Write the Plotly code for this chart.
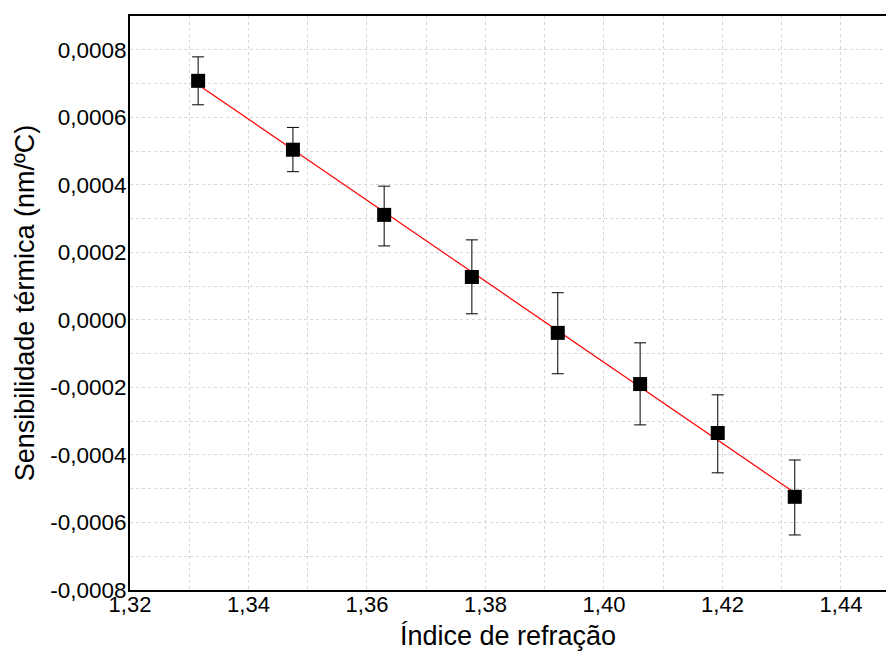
import numpy as np
import plotly.graph_objects as go

x_vals = [1.3315, 1.3475, 1.3629, 1.3777, 1.3922, 1.4061, 1.4192, 1.4322]
y_vals = [0.000708, 0.000504, 0.000311, 0.000127, -0.0000385, -0.000190, -0.000335, -0.000524]
err_plus = [0.000071, 0.000066, 0.000085, 0.000110, 0.000119, 0.000122, 0.000113, 0.000109]
err_minus = [0.000071, 0.000065, 0.000092, 0.000109, 0.000121, 0.000121, 0.000118, 0.000113]

x_tick_vals = [1.32, 1.34, 1.36, 1.38, 1.40, 1.42, 1.44]
x_tick_text = ["1,32", "1,34", "1,36", "1,38", "1,40", "1,42", "1,44"]
y_tick_vals = [-0.0008, -0.0006, -0.0004, -0.0002, 0.0, 0.0002, 0.0004, 0.0006, 0.0008]
y_tick_text = ["-0,0008", "-0,0006", "-0,0004", "-0,0002", "0,0000",
               "0,0002", "0,0004", "0,0006", "0,0008"]

slope, intercept = np.polyfit(x_vals, y_vals, 1)
fit_x = [x_vals[0], x_vals[-1]]
fit_y = [slope * v + intercept for v in fit_x]

font_family = "Liberation Sans, Arial, sans-serif"
grid_color = "#d6d6d6"

fig = go.Figure()
fig.add_trace(go.Scatter(
    x=fit_x, y=fit_y, mode="lines",
    line=dict(color="red", width=1.2), showlegend=False, hoverinfo="skip"))
fig.add_trace(go.Scatter(
    x=x_vals, y=y_vals, mode="markers",
    marker=dict(symbol="square", size=14, color="black"),
    error_y=dict(type="data", symmetric=False, array=err_plus, arrayminus=err_minus,
                 color="black", thickness=1, width=6),
    showlegend=False))

fig.update_layout(
    width=886, height=654,
    margin=dict(l=130, r=0, t=16, b=64),
    paper_bgcolor="white", plot_bgcolor="white",
    font=dict(family=font_family, color="black", size=22),
)
fig.update_xaxes(
    range=[1.32, 1.4476], tickmode="array", tickvals=x_tick_vals, ticktext=x_tick_text,
    tickfont=dict(size=22, family=font_family, color="black"), ticklabelstandoff=-6,
    showline=True, linecolor="black", linewidth=2, mirror=True,
    showgrid=True, gridcolor=grid_color, griddash="dot", gridwidth=1,
    minor=dict(dtick=0.01, tick0=1.32, showgrid=True, gridcolor=grid_color, griddash="dot"),
    zeroline=False, ticks="", automargin=False,
    title=dict(text="Índice de refração", font=dict(size=27, family=font_family), standoff=10),
)
fig.update_yaxes(
    range=[-0.0008, 0.0009], tickmode="array", tickvals=y_tick_vals, ticktext=y_tick_text,
    tickfont=dict(size=22.5, family=font_family, color="black"),
    showline=True, linecolor="black", linewidth=2, ticklabelstandoff=-3,
    showgrid=True, gridcolor=grid_color, griddash="dot", gridwidth=1,
    minor=dict(dtick=0.0001, tick0=-0.0008, showgrid=True, gridcolor=grid_color, griddash="dot"),
    zeroline=False, ticks="", automargin=False,
    title=dict(text="Sensibilidade térmica (nm/ºC)", font=dict(size=27, family=font_family), standoff=8),
)

fig.write_html("out.html", config={"displayModeBar": False},
               post_script="document.body.style.margin='0px';")
